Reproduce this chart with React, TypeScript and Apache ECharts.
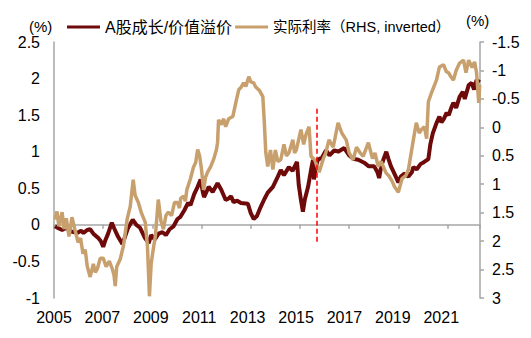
import React, { useEffect, useRef } from 'react';
import * as echarts from 'echarts';

// ---- axis ranges / ticks ----
const X_START = 2005;
const X_END = 2022.32;
const LABEL_END = 2022.6;
const yearLabels = [2005, 2007, 2009, 2011, 2013, 2015, 2017, 2019, 2021];
const leftRange = [-1, 2.5];
const rightRange = [-1.5, 3];
const legendNames = ['A股成长/价值溢价', '实际利率（RHS, inverted）'];

// ---- A股成长/价值溢价 (left axis, %) : [decimal year, value] ----
const premium: [number, number][] = [
  [2005.04, -0.02], [2005.2, -0.05], [2005.33, -0.07], [2005.5, -0.04], [2005.7, -0.09],
  [2005.94, -0.11], [2006.1, -0.08], [2006.2, -0.11], [2006.35, -0.07], [2006.47, -0.06],
  [2006.6, -0.12], [2006.8, -0.18], [2006.9, -0.22], [2007.0, -0.3], [2007.1, -0.2],
  [2007.2, -0.12], [2007.35, 0.03], [2007.45, -0.05], [2007.6, -0.16], [2007.78, -0.26],
  [2007.85, -0.2], [2008.0, -0.05], [2008.2, 0.07], [2008.35, 0.0], [2008.5, -0.04],
  [2008.7, -0.18], [2008.85, -0.25], [2008.95, -0.14], [2009.1, -0.2], [2009.25, -0.12],
  [2009.41, -0.1], [2009.55, -0.14], [2009.7, -0.06], [2009.86, -0.02], [2010.02, 0.08],
  [2010.14, 0.11], [2010.3, 0.2], [2010.45, 0.3], [2010.55, 0.27], [2010.7, 0.42],
  [2010.84, 0.52], [2010.96, 0.62], [2011.05, 0.45], [2011.1, 0.38], [2011.29, 0.52],
  [2011.45, 0.45], [2011.65, 0.57], [2011.8, 0.48], [2011.98, 0.34], [2012.1, 0.36],
  [2012.2, 0.39], [2012.3, 0.31], [2012.45, 0.33], [2012.6, 0.3], [2012.88, 0.29],
  [2013.0, 0.16], [2013.12, 0.08], [2013.25, 0.12], [2013.41, 0.25], [2013.55, 0.35],
  [2013.69, 0.44], [2013.9, 0.52], [2014.1, 0.66], [2014.22, 0.75], [2014.35, 0.68],
  [2014.55, 0.79], [2014.7, 0.74], [2014.88, 0.86], [2014.95, 0.55], [2015.04, 0.34],
  [2015.12, 0.18], [2015.2, 0.35], [2015.33, 0.52], [2015.45, 0.75], [2015.53, 0.89],
  [2015.57, 0.62], [2015.65, 0.8], [2015.73, 0.89], [2015.9, 0.92], [2016.06, 1.02],
  [2016.2, 0.95], [2016.4, 1.02], [2016.55, 1.0], [2016.8, 1.05], [2017.0, 0.95],
  [2017.2, 0.9], [2017.37, 0.89], [2017.61, 0.85], [2017.8, 0.8], [2018.02, 0.8],
  [2018.15, 0.72], [2018.22, 0.64], [2018.3, 0.8], [2018.39, 0.89], [2018.51, 1.0],
  [2018.6, 0.9], [2018.7, 0.8], [2018.84, 0.7], [2019.0, 0.58], [2019.1, 0.66],
  [2019.25, 0.7], [2019.41, 0.66], [2019.55, 0.72], [2019.61, 0.79], [2019.75, 0.76],
  [2019.9, 0.83], [2020.05, 0.86], [2020.22, 0.9], [2020.3, 1.1], [2020.4, 1.25],
  [2020.55, 1.39], [2020.67, 1.48], [2020.75, 1.4], [2020.85, 1.45], [2020.96, 1.53],
  [2021.05, 1.5], [2021.15, 1.6], [2021.24, 1.67], [2021.35, 1.6], [2021.49, 1.75],
  [2021.62, 1.82], [2021.7, 1.72], [2021.86, 1.91], [2021.98, 1.94], [2022.08, 1.85],
  [2022.18, 1.98], [2022.31, 1.95],
];

// ---- 实际利率 (right axis, inverted, %) : [decimal year, value] ----
const realRate: [number, number][] = [
  [2005.04, 1.62], [2005.12, 1.48], [2005.2, 1.74], [2005.33, 1.49], [2005.41, 1.79],
  [2005.5, 1.6], [2005.61, 1.92], [2005.73, 1.58], [2005.85, 1.8], [2005.98, 2.02],
  [2006.08, 1.95], [2006.18, 2.22], [2006.27, 2.15], [2006.35, 2.44], [2006.47, 2.63],
  [2006.6, 2.4], [2006.68, 2.55], [2006.76, 2.49], [2006.88, 2.3], [2007.0, 2.3],
  [2007.12, 2.45], [2007.25, 2.35], [2007.37, 2.49], [2007.44, 2.6], [2007.49, 2.79],
  [2007.55, 2.45], [2007.69, 2.32], [2007.82, 2.09], [2007.9, 1.85], [2007.98, 1.6],
  [2008.1, 1.39], [2008.22, 0.92], [2008.3, 1.2], [2008.43, 1.32], [2008.55, 1.5],
  [2008.71, 1.67], [2008.8, 2.09], [2008.88, 2.97], [2008.95, 2.4], [2009.05, 2.1],
  [2009.12, 1.92], [2009.24, 1.27], [2009.35, 1.65], [2009.45, 1.79], [2009.55, 1.55],
  [2009.65, 1.49], [2009.78, 1.55], [2009.9, 1.32], [2010.02, 1.32], [2010.1, 1.42],
  [2010.15, 1.25], [2010.27, 1.21], [2010.34, 1.3], [2010.4, 1.1], [2010.55, 0.9],
  [2010.67, 0.7], [2010.76, 0.62], [2010.84, 0.39], [2010.92, 0.5], [2011.0, 0.75],
  [2011.08, 1.1], [2011.16, 0.88], [2011.24, 0.79], [2011.37, 0.69], [2011.5, 0.55],
  [2011.6, 0.4], [2011.65, 0.27], [2011.69, -0.13], [2011.8, -0.05], [2011.9, -0.15],
  [2011.98, -0.01], [2012.1, -0.15], [2012.27, -0.19], [2012.39, -0.43], [2012.51, -0.66],
  [2012.6, -0.7], [2012.71, -0.78], [2012.8, -0.72], [2012.92, -0.89], [2013.0, -0.8],
  [2013.12, -0.78], [2013.2, -0.71], [2013.35, -0.65], [2013.49, -0.54], [2013.55, -0.1],
  [2013.61, 0.44], [2013.69, 0.69], [2013.8, 0.4], [2013.9, 0.74], [2014.0, 0.4],
  [2014.1, 0.6], [2014.22, 0.57], [2014.35, 0.3], [2014.45, 0.5], [2014.55, 0.45],
  [2014.71, 0.22], [2014.78, 0.45], [2014.85, 0.4], [2015.04, 0.04], [2015.15, 0.3],
  [2015.25, 0.12], [2015.37, -0.01], [2015.45, 0.51], [2015.6, 0.57], [2015.78, 0.79],
  [2015.95, 0.55], [2016.05, 0.45], [2016.18, 0.22], [2016.35, 0.35], [2016.55, -0.08],
  [2016.7, 0.1], [2016.88, 0.22], [2017.0, 0.45], [2017.16, 0.57], [2017.3, 0.35],
  [2017.45, 0.45], [2017.57, 0.51], [2017.78, 0.27], [2017.95, 0.55], [2018.05, 0.45],
  [2018.18, 0.69], [2018.3, 0.6], [2018.5, 0.8], [2018.63, 0.86], [2018.75, 0.95],
  [2018.84, 1.04], [2019.0, 1.14], [2019.15, 0.9], [2019.3, 0.85], [2019.41, 0.74],
  [2019.61, 0.22], [2019.73, -0.08], [2019.85, 0.1], [2019.94, 0.04], [2020.06, -0.01],
  [2020.15, 0.2], [2020.22, -0.45], [2020.35, -0.61], [2020.55, -0.83], [2020.67, -1.06],
  [2020.84, -1.1], [2020.95, -0.98], [2021.04, -0.96], [2021.15, -0.88], [2021.24, -0.83],
  [2021.35, -1.0], [2021.49, -1.13], [2021.65, -1.18], [2021.75, -0.96], [2021.86, -1.18],
  [2022.0, -1.05], [2022.1, -1.15], [2022.18, -0.96], [2022.27, -0.43], [2022.31, -0.75],
];

// ---- dashed marker ----
const markerYear = 2015.69;
const markerSpan = [-0.23, 1.6];

const FONT = "'Liberation Sans', Arial, 'Noto Sans CJK SC', sans-serif";
const AXIS_GRAY = '#A6A6A6';
const RED = '#6E0A0A';
const TAN = '#C8A06E';

export default function App() {
  const ref = useRef<HTMLDivElement>(null);

  useEffect(() => {
    const chart = echarts.init(ref.current!, null, { renderer: 'svg' });
    const toX = (t: number) => +(t - X_START).toFixed(3);
    const markerX = toX(markerYear);

    chart.setOption({
      animation: false,
      textStyle: { fontFamily: FONT },
      grid: { left: 54, right: 51, top: 42, bottom: 40, containLabel: false },
      legend: {
        left: 62,
        top: 14,
        icon: 'rect',
        itemWidth: 33,
        itemHeight: 3,
        itemGap: 3,
        data: [
          { name: legendNames[0], textStyle: { fontSize: 16, color: '#000', fontFamily: FONT } },
          { name: legendNames[1], textStyle: { fontSize: 14.5, color: '#000', fontFamily: FONT } },
        ],
      },
      graphic: [
        {
          type: 'text', left: 29, top: 19,
          style: { text: '(%)', fontSize: 15, fill: '#000', fontFamily: FONT },
        },
        {
          type: 'text', left: 466, top: 13,
          style: { text: '(%)', fontSize: 15, fill: '#000', fontFamily: FONT },
        },
      ],
      xAxis: [
        {
          // labels only (bottom)
          type: 'value',
          min: 0,
          max: toX(LABEL_END),
          interval: 2,
          position: 'bottom',
          axisLine: { show: false, onZero: false },
          axisTick: { show: false },
          splitLine: { show: false },
          axisLabel: {
            fontSize: 16,
            color: '#000',
            margin: 11,
            fontFamily: FONT,
            formatter: (v: number) => {
              const yr = Math.round(v) + X_START;
              return Math.abs(v - Math.round(v)) < 1e-6 && yearLabels.includes(yr) ? String(yr) : '';
            },
          },
        },
        {
          // axis line on zero with ticks
          type: 'value',
          min: 0,
          max: toX(X_END),
          interval: 2,
          position: 'bottom',
          axisLine: { show: true, onZero: true, onZeroAxisIndex: 0, lineStyle: { color: AXIS_GRAY, width: 1.5 } },
          axisTick: { show: true, length: 4, lineStyle: { color: AXIS_GRAY, width: 1.5 } },
          axisLabel: { show: false },
          splitLine: { show: false },
        },
      ],
      yAxis: [
        {
          type: 'value',
          position: 'left',
          min: leftRange[0],
          max: leftRange[1],
          interval: 0.5,
          axisLine: { show: true, onZero: false, lineStyle: { color: AXIS_GRAY, width: 1.5 } },
          axisTick: { show: false },
          splitLine: { show: false },
          axisLabel: { fontSize: 16, color: '#000', margin: 14, fontFamily: FONT },
        },
        {
          type: 'value',
          position: 'right',
          inverse: true,
          min: rightRange[0],
          max: rightRange[1],
          interval: 0.5,
          axisLine: { show: true, onZero: false, lineStyle: { color: AXIS_GRAY, width: 1.5 } },
          axisTick: { show: true, length: 4, lineStyle: { color: AXIS_GRAY, width: 1.5 } },
          splitLine: { show: false },
          axisLabel: { fontSize: 16, color: '#000', margin: 12, fontFamily: FONT },
        },
      ],
      series: [
        {
          name: legendNames[0],
          type: 'line',
          xAxisIndex: 1,
          yAxisIndex: 0,
          symbol: 'none',
          lineStyle: { color: RED, width: 4 },
          itemStyle: { color: RED },
          data: premium.map(([t, v]) => [toX(t), v]),
          markLine: {
            silent: true,
            symbol: ['none', 'none'],
            label: { show: false },
            lineStyle: { color: '#FF0000', type: [5, 3], width: 1.5 },
            data: [[{ coord: [markerX, markerSpan[0]] }, { coord: [markerX, markerSpan[1]] }]],
          },
          z: 2,
        },
        {
          name: legendNames[1],
          type: 'line',
          xAxisIndex: 1,
          yAxisIndex: 1,
          symbol: 'none',
          lineStyle: { color: TAN, width: 3.5 },
          itemStyle: { color: TAN },
          data: realRate.map(([t, v]) => [toX(t), v]),
          z: 3,
        },
      ],
    });

    return () => chart.dispose();
  }, []);

  return (
    <div
      ref={ref}
      style={{ position: 'fixed', left: 0, top: 0, width: 531, height: 338, background: '#fff' }}
    />
  );
}
